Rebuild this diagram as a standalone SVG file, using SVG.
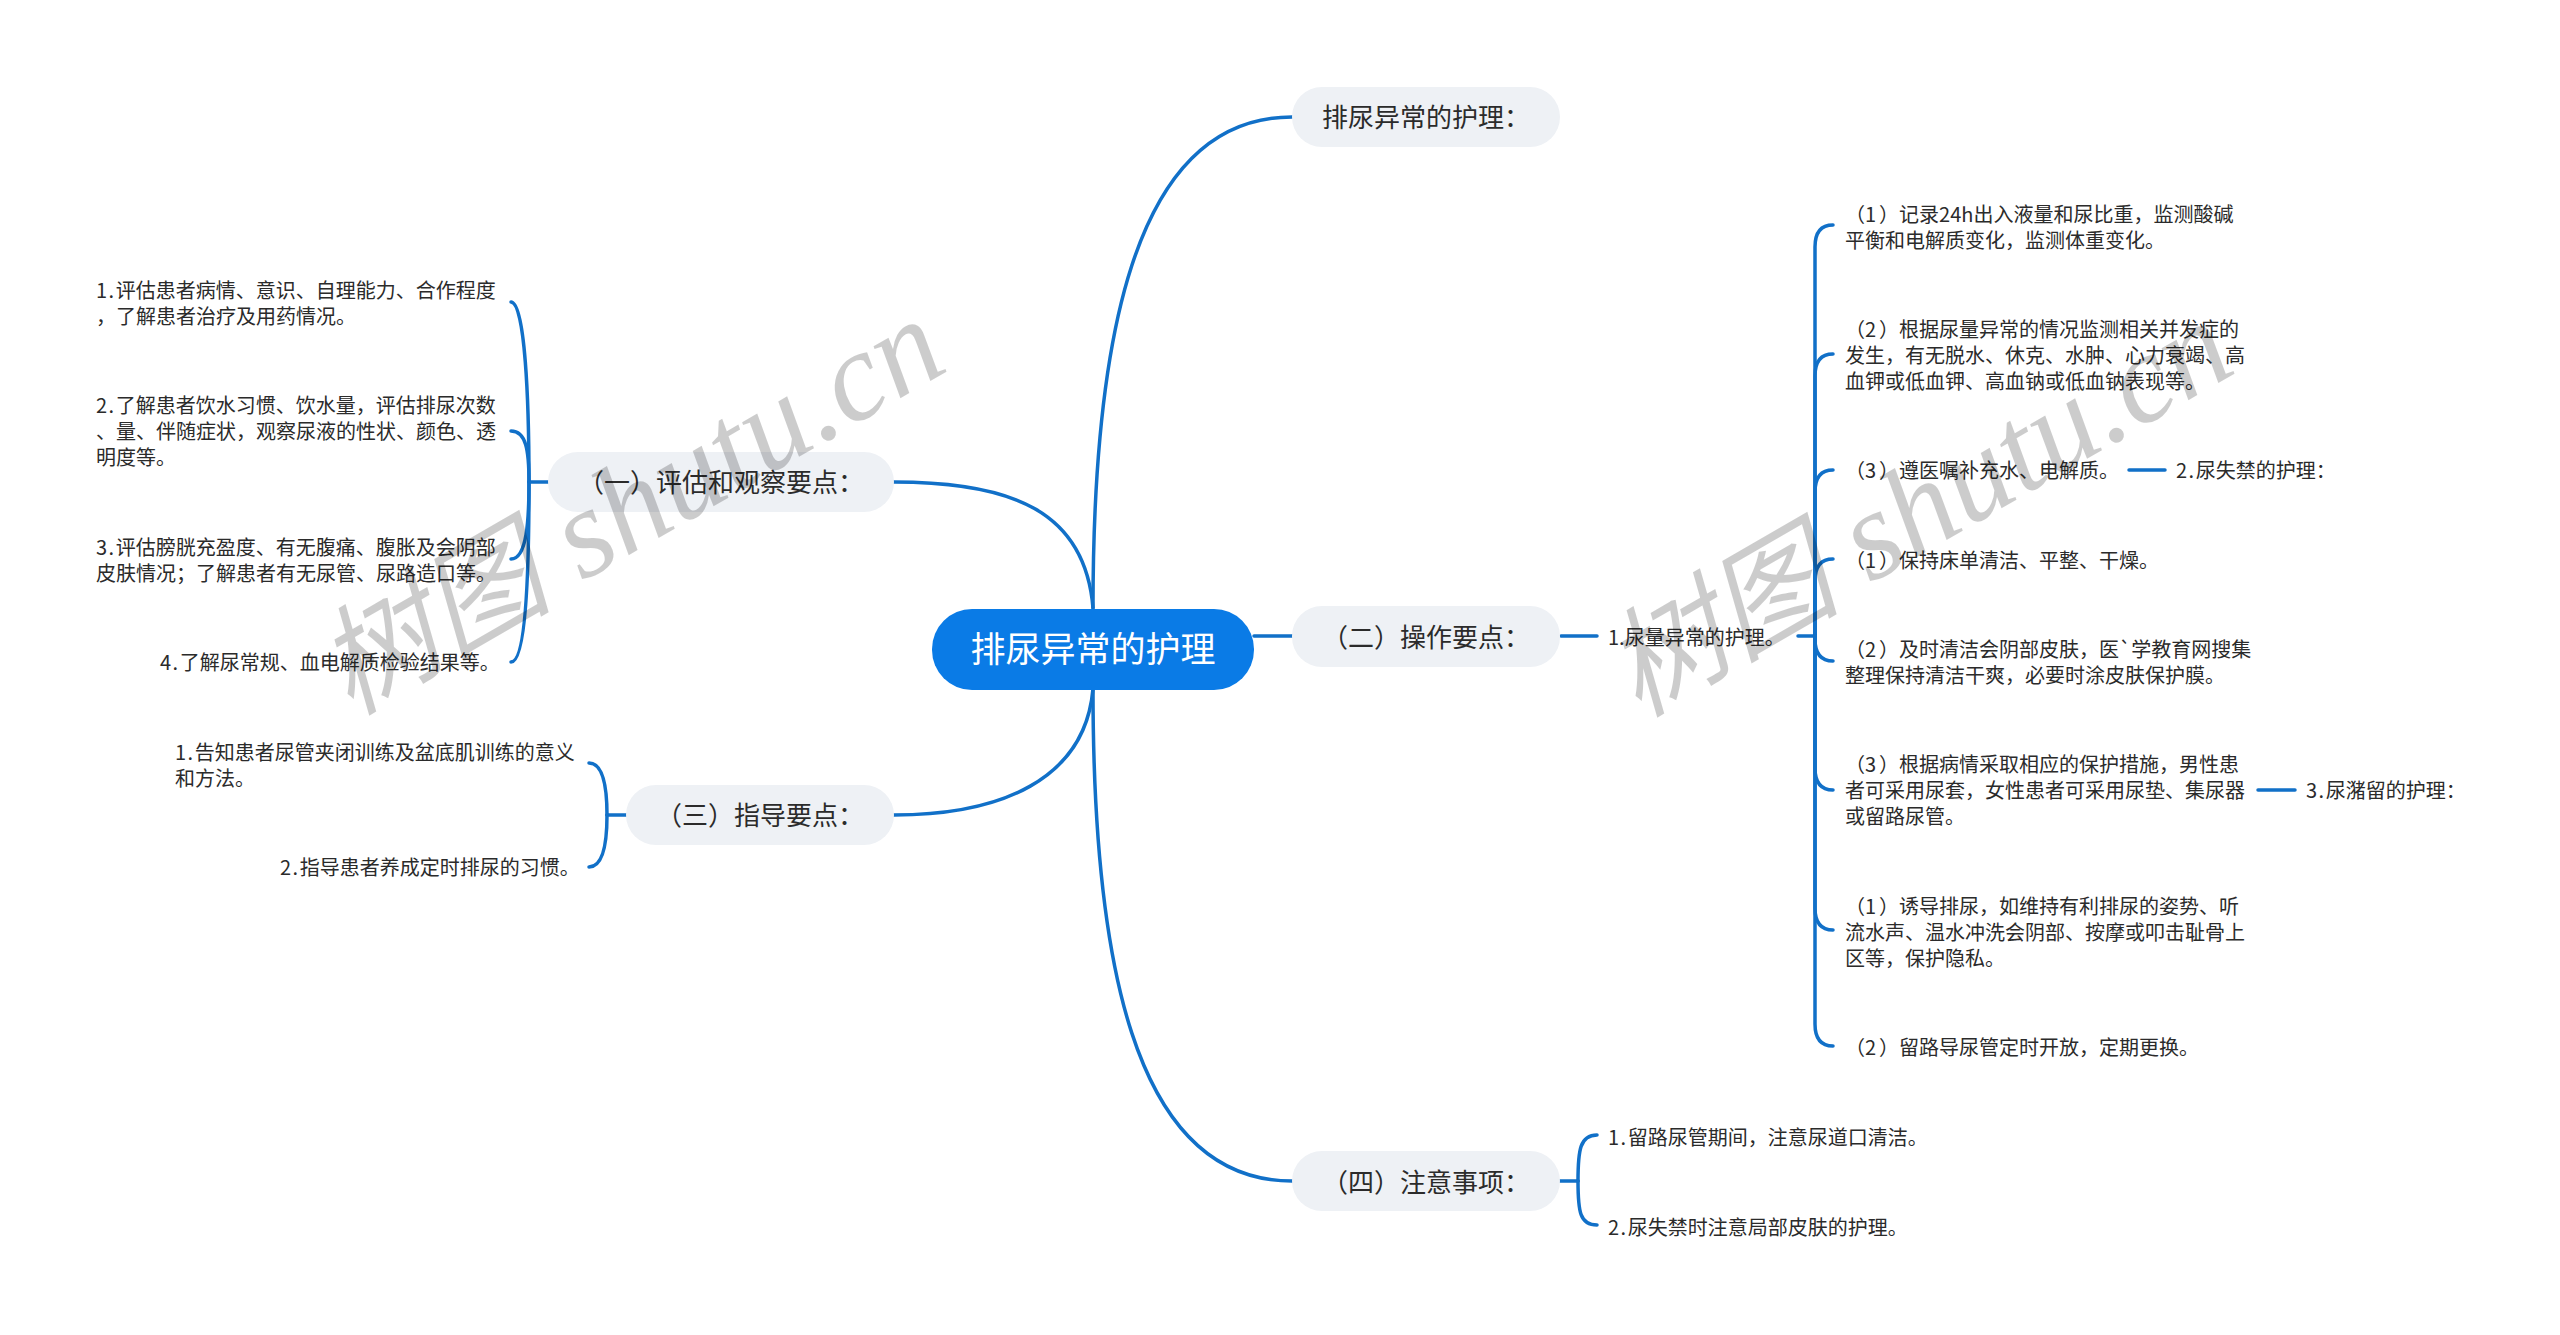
<svg xmlns="http://www.w3.org/2000/svg" width="2560" height="1335" viewBox="0 0 2560 1335">
<style>
text{font-family:"Noto Sans CJK SC","Liberation Sans",sans-serif;fill:#2b2b2b}
.s{font-size:20px}
.d{letter-spacing:1.5px}
.e{letter-spacing:3px}
.m{font-size:26px;text-anchor:middle}
.r{font-size:35px;text-anchor:middle;fill:#fff}
.n{fill:#eef1f5}
.c{fill:none;stroke:#1170c8;stroke-width:3.5;stroke-linecap:round}
.w{font-family:"Liberation Serif","Noto Sans CJK SC",serif;font-size:127px;font-style:italic;fill:#000;fill-opacity:.2}
.wc{font-size:118px}
</style>
<rect width="2560" height="1335" fill="#fff"/>
<g id="connectors">
<path class="c" d="M1093 608C1093 350 1130 117 1292 117"/>
<path class="c" d="M894 482C1010 482 1085 510 1093 608"/>
<path class="c" d="M894 815C1000 815 1085 780 1093 689"/>
<path class="c" d="M1093 689C1093 950 1130 1181 1292 1181"/>
<path class="c" d="M1254 636H1293"/>
<path class="c" d="M1561 636H1597"/>
<path class="c" d="M1798 636H1815"/>
<path class="c" d="M548 482H529"/>
<path class="c" d="M529 482C529 400 525 302 511 302"/>
<path class="c" d="M529 482C529 450 526 431 511 431"/>
<path class="c" d="M529 482C529 520 527 559 511 559"/>
<path class="c" d="M529 482C529 570 526 662 511 662"/>
<path class="c" d="M626 815H607"/>
<path class="c" d="M607 815C607 790 604 763 589 763"/>
<path class="c" d="M607 815C607 840 604 867 589 867"/>
<path class="c" d="M1560 1181H1578"/>
<path class="c" d="M1578 1181C1578 1150 1580 1135 1597 1135"/>
<path class="c" d="M1578 1181C1578 1212 1580 1225 1597 1225"/>
<path class="c" d="M1815 636V247C1815 233 1820 225 1833 225"/>
<path class="c" d="M1815 636V376C1815 362 1820 354 1833 354"/>
<path class="c" d="M1815 636V492C1815 478 1820 470 1833 470"/>
<path class="c" d="M1815 636V581C1815 567 1820 559 1833 559"/>
<path class="c" d="M1815 636V639C1815 653 1820 661 1833 661"/>
<path class="c" d="M1815 636V768C1815 782 1820 790 1833 790"/>
<path class="c" d="M1815 636V908C1815 922 1820 930 1833 930"/>
<path class="c" d="M1815 636V1024C1815 1038 1820 1046 1833 1046"/>
<path class="c" d="M2129 470H2165"/>
<path class="c" d="M2258 790H2295"/>
</g>
<g id="root"><rect x="932" y="609" width="322" height="81" rx="40" fill="#0a7be6"/><text class="r" x="1093" y="662">排尿异常的护理</text></g>
<g id="n0"><rect class="n" x="1292" y="87" width="268" height="60" rx="30"/><text class="m" x="1426" y="126.500">排尿异常的护理&#xFF1A;</text></g>
<g id="n1"><rect class="n" x="548" y="452" width="346" height="60" rx="30"/><text class="m" x="721" y="491.500">&#xFF08;一&#xFF09;评估和观察要点&#xFF1A;</text></g>
<g id="n2"><rect class="n" x="1292" y="606" width="268" height="61" rx="30"/><text class="m" x="1426" y="646.500">&#xFF08;二&#xFF09;操作要点&#xFF1A;</text></g>
<g id="n3"><rect class="n" x="626" y="785" width="268" height="60" rx="30"/><text class="m" x="760" y="825">&#xFF08;三&#xFF09;指导要点&#xFF1A;</text></g>
<g id="n4"><rect class="n" x="1292" y="1151" width="268" height="60" rx="30"/><text class="m" x="1426" y="1191.500">&#xFF08;四&#xFF09;注意事项&#xFF1A;</text></g>
<g id="l1"><text class="s" x="96" y="298"><tspan class="d">1.</tspan>评估患者病情、意识、自理能力、合作程度</text><text class="s" x="96" y="324">&#xFF0C;了解患者治疗及用药情况。</text></g>
<g id="l2"><text class="s" x="96" y="413"><tspan class="d">2.</tspan>了解患者饮水习惯、饮水量&#xFF0C;评估排尿次数</text><text class="s" x="96" y="439">、量、伴随症状&#xFF0C;观察尿液的性状、颜色、透</text><text class="s" x="96" y="465">明度等。</text></g>
<g id="l3"><text class="s" x="96" y="555"><tspan class="d">3.</tspan>评估膀胱充盈度、有无腹痛、腹胀及会阴部</text><text class="s" x="96" y="581">皮肤情况&#xFF1B;了解患者有无尿管、尿路造口等。</text></g>
<g id="l4"><text class="s" x="160" y="670"><tspan class="d">4.</tspan>了解尿常规、血电解质检验结果等。</text></g>
<g id="g1"><text class="s" x="175" y="760"><tspan class="d">1.</tspan>告知患者尿管夹闭训练及盆底肌训练的意义</text><text class="s" x="175" y="786">和方法。</text></g>
<g id="g2"><text class="s" x="280" y="875"><tspan class="d">2.</tspan>指导患者养成定时排尿的习惯。</text></g>
<g id="o1"><text class="s" x="1608" y="645">1.尿量异常的护理。</text></g>
<g id="a1"><text class="s" x="1845" y="222">&#xFF08;<tspan class="e">1</tspan>&#xFF09;记录24h出入液量和尿比重&#xFF0C;监测酸碱</text><text class="s" x="1845" y="248">平衡和电解质变化&#xFF0C;监测体重变化。</text></g>
<g id="a2"><text class="s" x="1845" y="337">&#xFF08;<tspan class="e">2</tspan>&#xFF09;根据尿量异常的情况监测相关并发症的</text><text class="s" x="1845" y="363">发生&#xFF0C;有无脱水、休克、水肿、心力衰竭、高</text><text class="s" x="1845" y="389">血钾或低血钾、高血钠或低血钠表现等。</text></g>
<g id="a3"><text class="s" x="1845" y="478">&#xFF08;<tspan class="e">3</tspan>&#xFF09;遵医嘱补充水、电解质。</text></g>
<g id="a4"><text class="s" x="2176" y="478"><tspan class="d">2.</tspan>尿失禁的护理&#xFF1A;</text></g>
<g id="b1"><text class="s" x="1845" y="568">&#xFF08;<tspan class="e">1</tspan>&#xFF09;保持床单清洁、平整、干燥。</text></g>
<g id="b2"><text class="s" x="1845" y="657">&#xFF08;<tspan class="e">2</tspan>&#xFF09;及时清洁会阴部皮肤&#xFF0C;医`学教育网搜集</text><text class="s" x="1845" y="683">整理保持清洁干爽&#xFF0C;必要时涂皮肤保护膜。</text></g>
<g id="b3"><text class="s" x="1845" y="772">&#xFF08;<tspan class="e">3</tspan>&#xFF09;根据病情采取相应的保护措施&#xFF0C;男性患</text><text class="s" x="1845" y="798">者可采用尿套&#xFF0C;女性患者可采用尿垫、集尿器</text><text class="s" x="1845" y="824">或留路尿管。</text></g>
<g id="b4"><text class="s" x="2306" y="798"><tspan class="d">3.</tspan>尿潴留的护理&#xFF1A;</text></g>
<g id="c1"><text class="s" x="1845" y="914">&#xFF08;<tspan class="e">1</tspan>&#xFF09;诱导排尿&#xFF0C;如维持有利排尿的姿势、听</text><text class="s" x="1845" y="940">流水声、温水冲洗会阴部、按摩或叩击耻骨上</text><text class="s" x="1845" y="966">区等&#xFF0C;保护隐私。</text></g>
<g id="c2"><text class="s" x="1845" y="1055">&#xFF08;<tspan class="e">2</tspan>&#xFF09;留路导尿管定时开放&#xFF0C;定期更换。</text></g>
<g id="d1"><text class="s" x="1608" y="1145"><tspan class="d">1.</tspan>留路尿管期间&#xFF0C;注意尿道口清洁。</text></g>
<g id="d2"><text class="s" x="1608" y="1235"><tspan class="d">2.</tspan>尿失禁时注意局部皮肤的护理。</text></g>
<g id="watermark"><text class="w" transform="translate(350 716) rotate(-30)"><tspan class="wc">树图</tspan> shutu.cn</text><text class="w" transform="translate(1638 718) rotate(-30)"><tspan class="wc">树图</tspan> shutu.cn</text></g>
</svg>
